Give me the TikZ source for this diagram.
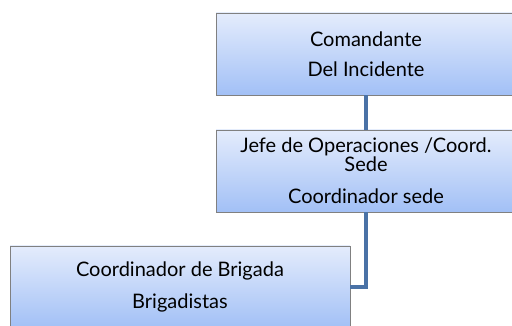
\documentclass[tikz,border=0pt]{standalone}
\usepackage{fontspec}
\setmainfont{Lato}
\usetikzlibrary{positioning,shadows}
\definecolor{boxtop}{RGB}{228,236,252}
\definecolor{boxbot}{RGB}{162,192,246}
\definecolor{boxline}{RGB}{128,128,128}
\definecolor{linkblue}{RGB}{74,114,166}

\begin{document}
\begin{tikzpicture}[x=1pt,y=-1pt,font=\fontsize{20}{17}\selectfont,
  orgbox/.style={draw=boxline,top color=boxtop,bottom color=boxbot,
    minimum width=300pt,minimum height=82pt,align=center,inner sep=1pt,
    drop shadow={shadow xshift=1pt,shadow yshift=-1.5pt,opacity=.35}},
  link/.style={draw=linkblue,line width=3.5pt}]
\useasboundingbox (0,0) rectangle (512,326);
\clip (0,0) rectangle (512,326);
% chain of command
\node[orgbox] (cmd) at (366,54) {Comandante\\[13pt]Del Incidente};
\node[orgbox] (ops) at (366,171) {Jefe de Operaciones /Coord.\\Sede\\[15pt]Coordinador sede};
\node[orgbox,minimum width=340pt] (brig) at (180,287) {Coordinador de Brigada\\[13pt]Brigadistas};
\draw[link] (cmd.south) -- (ops.north);
\draw[link] (ops.south) |- (brig.east);
\end{tikzpicture}
\end{document}
